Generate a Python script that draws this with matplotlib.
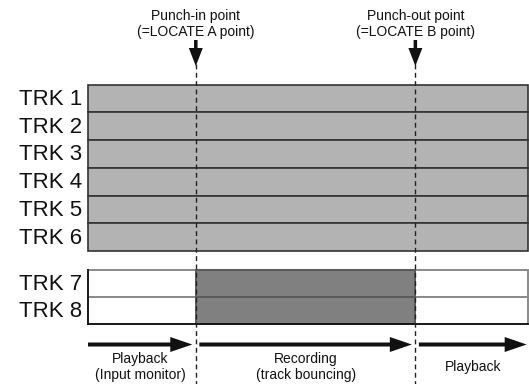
import matplotlib.pyplot as plt
from matplotlib.patches import FancyArrowPatch

plt.rcParams['font.family'] = ['Liberation Sans', 'DejaVu Sans']

# timeline (0..100) and the punch points on it
punch_in = 24.5
punch_out = 74.4
song_end = 100

upper_tracks = ["TRK 1", "TRK 2", "TRK 3", "TRK 4", "TRK 5", "TRK 6"]
bounce_tracks = ["TRK 7", "TRK 8"]

marker_labels = ["Punch-in point\n(=LOCATE A point)", "Punch-out point\n(=LOCATE B point)"]
segment_labels = ["Playback\n(Input monitor)", "Recording\n(track bouncing)", "Playback"]

fig = plt.figure(figsize=(5.29, 3.84), dpi=100)
ax = fig.add_axes([0, 0, 1, 1])
# x in timeline units (4.4 px per unit, origin at px 88), y in pixels
ax.set_xlim(-20, (529 - 88) / 4.4)
ax.set_ylim(384, 0)
ax.axis('off')

light = '#b3b3b3'
dark = '#808080'
edge = '#333333'
ink = '#111111'


def arrow(x0, y0, x1, y1, hl, hw, tw):
    # sizes in pixels (mutation_scale 7.2pt = 10px)
    st = 'simple,head_length=%.2f,head_width=%.2f,tail_width=%.2f' % (hl / 10, hw / 10, tw / 10)
    ax.add_patch(FancyArrowPatch((x0, y0), (x1, y1), arrowstyle=st, mutation_scale=7.2,
                                 color=ink, lw=0, shrinkA=0, shrinkB=0, zorder=6))


# upper block, tracks 1-6
top1, rh1 = 84.5, 27.75
y1 = [top1 + rh1 * (i + 0.5) for i in range(len(upper_tracks))]
ax.barh(y1, song_end, left=0, height=rh1, color=light, edgecolor=edge, linewidth=1.2, zorder=2)
for y, name in zip(y1, upper_tracks):
    ax.text(-1.4, y + 1, name, ha='right', va='center', fontsize=16, color=ink)

# lower block, tracks 7-8
top2, rh2 = 270, 27.2
y2 = [top2 + rh2 * (i + 0.5) for i in range(len(bounce_tracks))]
ax.barh(y2, song_end, left=0, height=rh2, color='white', edgecolor='#8a8a8a', linewidth=1.4, zorder=2)
ax.barh(y2, punch_out - punch_in, left=punch_in, height=rh2, color=dark,
        edgecolor='#5a5a5a', linewidth=1.4, zorder=3)
ax.plot([0, song_end], [top2 + rh2 * 2, top2 + rh2 * 2], color=ink, lw=1.3, zorder=4)
ax.plot([0, 0], [top2, top2 + rh2 * 2], color=ink, lw=1.3, zorder=4)
for y, name in zip(y2, bounce_tracks):
    ax.text(-1.4, y + 1, name, ha='right', va='center', fontsize=16, color=ink)

# punch markers
for x, lab in zip([punch_in, punch_out], marker_labels):
    ax.plot([x, x], [64, 384], color='#222222', lw=1.0, ls=(0, (3.5, 2.5)), zorder=5)
    arrow(x, 40, x, 66, 18, 14, 3.5)
    ax.text(x, 24.2, lab, ha='center', va='center', fontsize=10,
            linespacing=1.2, color=ink)

# mode arrows below the tracks
bounds = [0, punch_in, punch_out, song_end]
gap = 0.8
for i, lab in enumerate(segment_labels):
    a = bounds[i] + (gap if i > 0 else 0)
    b = bounds[i + 1] - (gap if i < 2 else 0.3)
    arrow(a, 344.5, b, 344.5, 22, 15, 4)
    ax.text((a + b) / 2, 366.8, lab, ha='center', va='center', fontsize=10,
            linespacing=1.2, color=ink)

fig.savefig('out.png', dpi=100)
